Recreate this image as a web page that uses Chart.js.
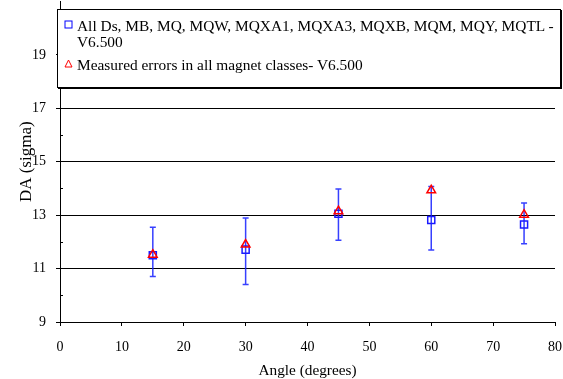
<!DOCTYPE html>
<html>
<head>
<meta charset="utf-8">
<script src="https://cdn.jsdelivr.net/npm/chart.js@4.4.1/dist/chart.umd.min.js"></script>
<style>
  body { margin: 0; background: #fff; }
  #wrap { position: relative; width: 563px; height: 379px; overflow: hidden; }
  #myChart { position: absolute; left: 0; top: -5px; }
  #legend {
    position: absolute; left: 57px; top: 9px; width: 504px; height: 79px;
    background: #fff; border: 1px solid #000; box-shadow: 1px 1px 0 #000;
    font-family: "Liberation Serif", serif; font-size: 15.4px; color: #000;
    line-height: 15.5px; box-sizing: border-box; padding: 8px 0 0 6px;
  }
  .row { position: relative; padding-left: 13px; margin-bottom: 8px; }
  .row svg { position: absolute; left: 0; top: 2px; }
</style>
</head>
<body>
<div id="wrap">
  <canvas id="myChart" width="563" height="384"></canvas>
  <div id="legend">
    <div class="row"><svg width="9" height="9"><rect x="1" y="1" width="7" height="7" fill="none" stroke="#0000ff" stroke-width="1"/></svg>All Ds, MB, MQ, MQW, MQXA1, MQXA3, MQXB, MQM, MQY, MQTL -<br>V6.500</div>
    <div class="row"><svg width="9" height="9"><polygon points="4.5,1 8,8 1,8" fill="none" stroke="#ff0000" stroke-width="1"/></svg>Measured errors in all magnet classes- V6.500</div>
  </div>
</div>
<script>
// x values (angle, degrees)
const angles = [15, 30, 45, 60, 75];
// all Ds, MB, MQ ... series (mean DA) with min / max error bars
const allMagnets = [11.50, 11.71, 13.05, 12.82, 12.65];
const allMagnetsLow = [10.70, 10.40, 12.06, 11.70, 11.93];
const allMagnetsHigh = [12.55, 12.89, 13.98, 14.07, 13.46];
// measured errors series
const measured = [11.52, 11.90, 13.15, 13.93, 13.02];
// y tick labels
const yTicks = [9, 11, 13, 15, 17, 19];

const label1 = "All Ds, MB, MQ, MQW, MQXA1, MQXA3, MQXB, MQM, MQY, MQTL - V6.500";
const label2 = "Measured errors in all magnet classes- V6.500";

const serif = "'Liberation Serif', 'Times New Roman', serif";

// error bars + minor y ticks
const extras = {
  id: "extras",
  beforeDatasetsDraw(chart) {
    const ctx = chart.ctx;
    const x = chart.scales.x;
    const y = chart.scales.y;
    ctx.save();
    ctx.strokeStyle = "rgba(20, 30, 255, 0.85)";
    ctx.lineWidth = 1.5;
    angles.forEach((a, i) => {
      const px = x.getPixelForValue(a);
      const top = y.getPixelForValue(allMagnetsHigh[i]);
      const bot = y.getPixelForValue(allMagnetsLow[i]);
      ctx.beginPath();
      ctx.moveTo(px, top);
      ctx.lineTo(px, bot);
      ctx.moveTo(px - 3, top);
      ctx.lineTo(px + 3, top);
      ctx.moveTo(px - 3, bot);
      ctx.lineTo(px + 3, bot);
      ctx.stroke();
    });
    // minor ticks on the y axis (inside)
    ctx.strokeStyle = "#000";
    ctx.lineWidth = 1;
    for (let v = 10; v <= 20; v += 2) {
      const py = Math.round(y.getPixelForValue(v)) + 0.5;
      ctx.beginPath();
      ctx.moveTo(x.left, py);
      ctx.lineTo(x.left + 3, py);
      ctx.stroke();
    }
    ctx.restore();
  }
};

const ctx = document.querySelector("#myChart").getContext("2d");

new Chart(ctx, {
  type: "scatter",
  data: {
    datasets: [
      {
        label: label2,
        data: angles.map((a, i) => ({ x: a, y: measured[i] })),
        pointStyle: "triangle",
        pointRadius: 5,
        pointBorderColor: "#ff0000",
        pointBackgroundColor: "rgba(0,0,0,0)",
        pointBorderWidth: 1.5,
        order: 0
      },
      {
        label: label1,
        data: angles.map((a, i) => ({ x: a, y: allMagnets[i] })),
        pointStyle: "rect",
        pointRadius: 5,
        pointBorderColor: "#1a1aff",
        pointBackgroundColor: "rgba(0,0,0,0)",
        pointBorderWidth: 1.5,
        order: 1
      }
    ]
  },
  options: {
    responsive: false,
    animation: false,
    layout: { padding: { top: 0, right: 8, left: 0, bottom: 0 } },
    plugins: {
      legend: { display: false },
      tooltip: { enabled: false }
    },
    scales: {
      x: {
        type: "linear",
        min: 0,
        max: 80,
        afterFit: (s) => {
          s.height = 57;
          s.paddingLeft = 0;
          s.paddingRight = 0;
        },
        ticks: {
          stepSize: 10,
          color: "#000",
          font: { family: serif, size: 14 },
          padding: 13
        },
        grid: {
          drawOnChartArea: false,
          color: "#000",
          tickLength: 4
        },
        border: { color: "#000", width: 1 },
        title: {
          display: true,
          text: "Angle (degrees)",
          color: "#000",
          font: { family: serif, size: 15.3 },
          padding: { top: 4, bottom: -1 }
        }
      },
      y: {
        min: 9,
        max: 21,
        afterFit: (s) => {
          s.width = 60;
          s.paddingTop = 0;
          s.paddingBottom = 0;
        },
        afterBuildTicks: (s) => {
          s.ticks = yTicks.map((v) => ({ value: v }));
        },
        ticks: {
          color: "#000",
          font: { family: serif, size: 14 },
          padding: 10,
          autoSkip: false
        },
        grid: {
          color: (c) => (c.tick && c.tick.value > 9 ? "#000" : "rgba(0,0,0,0)"),
          tickColor: "#000",
          tickLength: 4,
          lineWidth: 1
        },
        border: { color: "#000", width: 1 },
        title: {
          display: true,
          text: "DA (sigma)",
          color: "#000",
          font: { family: serif, size: 17 },
          padding: { top: 16, bottom: 4 }
        }
      }
    }
  },
  plugins: [extras]
});
</script>
</body>
</html>
